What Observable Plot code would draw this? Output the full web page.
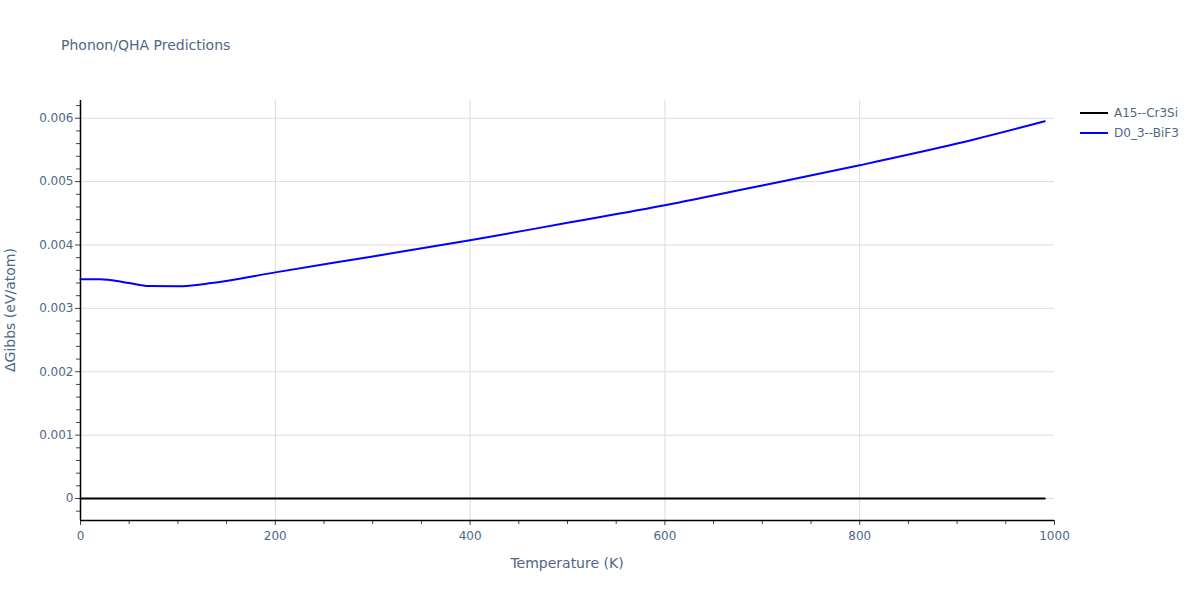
<!DOCTYPE html>
<html><head><meta charset="utf-8">
<script src="https://cdn.jsdelivr.net/npm/d3@7"></script>
<script src="https://cdn.jsdelivr.net/npm/@observablehq/plot@0.6"></script>
<style>
body{margin:0;background:#fff;font-family:"DejaVu Sans",sans-serif;}
#wrap{position:relative;width:1200px;height:600px;}
#title{position:absolute;left:61px;top:37px;font-size:14px;color:#506784;}
#xlab{position:absolute;left:80px;width:974px;text-align:center;top:555px;font-size:14px;color:#506784;}
#ylab{position:absolute;left:10px;top:310px;font-size:14px;color:#506784;transform:translate(-50%,-50%) rotate(-90deg);white-space:nowrap;}
.leg{position:absolute;left:1080px;font-size:12px;color:#506784;display:flex;align-items:center;}
.leg span.sw{display:inline-block;width:28px;height:2px;margin-right:6px;}
</style></head>
<body><div id="wrap"><div id="title">Phonon/QHA Predictions</div>
<div id="xlab">Temperature (K)</div>
<div id="ylab">ΔGibbs (eV/atom)</div>
<div class="leg" style="top:106px"><span class="sw" style="background:#000"></span>A15--Cr3Si</div>
<div class="leg" style="top:126px"><span class="sw" style="background:#0000ff"></span>D0_3--BiF3</div>
</div>
<script>
const temps = [0, 20, 30, 50, 70, 100, 135, 200, 300, 400, 500, 600, 700, 800, 900, 990];
const bif3 = [0.00346, 0.00346, 0.003448, 0.00340, 0.003352, 0.003350, 0.00340, 0.003568, 0.00382, 0.004074, 0.00435, 0.004627, 0.00494, 0.005258, 0.0056, 0.005953];
const cr3siT = [0, 990];
const cr3si = [0, 0];
const xTicks = [0, 200, 400, 600, 800, 1000];
const yTicks = [0, 0.001, 0.002, 0.003, 0.004, 0.005, 0.006];

const blue = temps.map((t, i) => ({t, g: bif3[i]}));
const black = cr3siT.map((t, i) => ({t, g: cr3si[i]}));
const yMin = -0.000347, yMax = 0.00628;
const xMinor = d3.range(0, 1001, 50).filter(v => v % 200 !== 0);
const yMinor = d3.range(-2, 32, 1).map(v => v * 0.0002).filter(v => v >= yMin && v <= yMax && Math.abs(Math.round(v*1000) - v*1000) > 1e-6);

const fmt = d => d === 0 ? "0" : d3.format(".3f")(d);
const chart = Plot.plot({
  width: 1200, height: 600,
  marginLeft: 80, marginRight: 146, marginTop: 100, marginBottom: 80,
  style: {fontFamily: "'DejaVu Sans', sans-serif", fontSize: "12px", color: "#506784", background: "transparent"},
  x: {domain: [0, 1000]},
  y: {domain: [yMin, yMax]},
  marks: [
    Plot.gridX(xTicks.slice(1, -1), {stroke: "#dddddd", strokeOpacity: 1}),
    Plot.gridY(yTicks, {stroke: "#dddddd", strokeOpacity: 1}),
    Plot.axisX(xTicks, {tickSize: 5, tickPadding: 6, tickFormat: d => String(d), stroke: "#444", fill: "#506784", label: null}),
    Plot.axisX(xMinor, {tickSize: 4, text: null, stroke: "#444", label: null}),
    Plot.axisY(yTicks, {tickSize: 5, tickPadding: 2, tickFormat: fmt, stroke: "#444", fill: "#506784", label: null}),
    Plot.axisY(yMinor, {tickSize: 4, text: null, stroke: "#444", label: null}),
    Plot.line(black, {x: "t", y: "g", stroke: "#000", strokeWidth: 2}),
    Plot.line(blue, {x: "t", y: "g", stroke: "#0000ff", strokeWidth: 2, curve: "monotone-x"}),
    Plot.ruleX([0], {stroke: "#000", strokeWidth: 1.5}),
    Plot.ruleY([yMin], {stroke: "#000", strokeWidth: 1.5})
  ]
});
chart.style.position = "absolute";
chart.style.left = "0px";
chart.style.top = "0px";
document.getElementById("wrap").prepend(chart);
</script></body></html>
